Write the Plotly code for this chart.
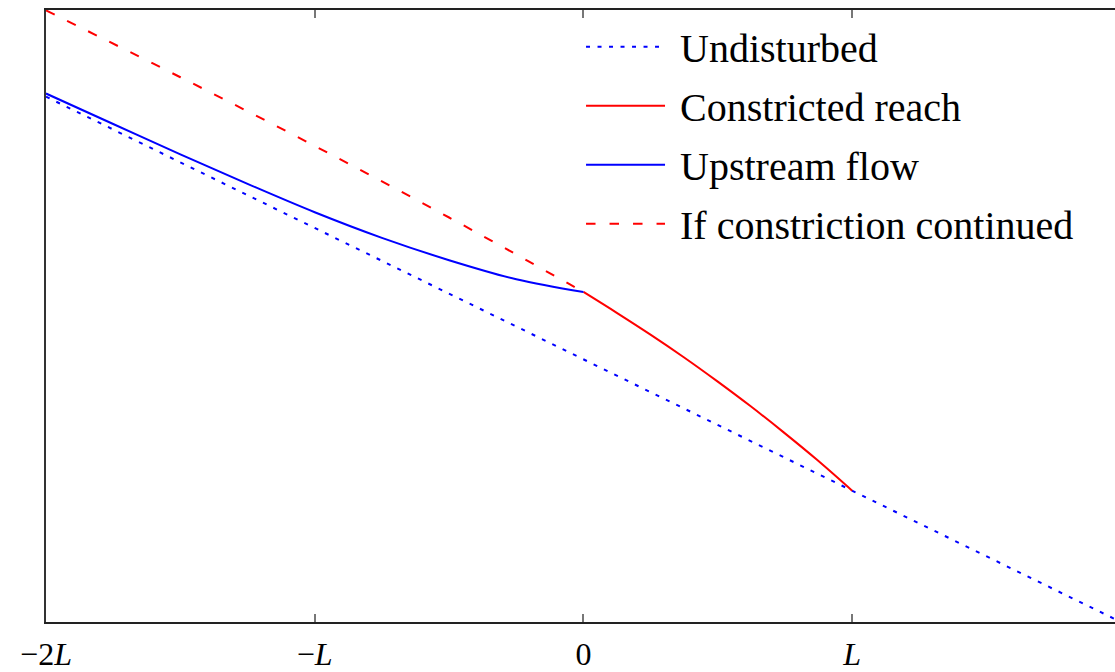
import plotly.graph_objects as go

# Data (x in units of L, y = water-surface elevation in arbitrary units)
x_undisturbed = [-2.0, 1.978]
y_undisturbed = [4.0, 0.022]

x_constricted = [0.0, 0.124, 0.248, 0.372, 0.496, 0.620, 0.744, 0.868, 1.0]
y_constricted = [2.513, 2.354, 2.190, 2.018, 1.836, 1.646, 1.446, 1.237, 1.0]

x_upstream = [-2.0, -1.75, -1.5, -1.25, -1.0, -0.75, -0.5, -0.25, 0.0]
y_upstream = [4.024, 3.792, 3.560, 3.336, 3.120, 2.925, 2.755, 2.610, 2.513]

x_continued = [-2.0, -1.5, -1.0, -0.5, 0.0]
y_continued = [4.657, 4.148, 3.625, 3.080, 2.513]

tick_vals = [-2, -1, 0, 1]
tick_text = ["\u22122<i>L</i>", "\u2212<i>L</i>", "0", "<i>L</i>"]

FONT = "Liberation Serif"
SP = "\u00a0"

fig = go.Figure()
fig.add_trace(go.Scatter(x=x_undisturbed, y=y_undisturbed, mode="lines",
                         name=SP + "Undisturbed", legendgroup="a",
                         line=dict(color="#0000ff", width=2, dash="4px,7.5px")))
fig.add_trace(go.Scatter(x=x_constricted, y=y_constricted, mode="lines",
                         name=SP + "Constricted reach", legendgroup="b",
                         line=dict(color="#ff0000", width=2, shape="spline")))
fig.add_trace(go.Scatter(x=x_upstream, y=y_upstream, mode="lines",
                         name=SP + "Upstream flow", legendgroup="c",
                         line=dict(color="#0000ff", width=2, shape="spline")))
fig.add_trace(go.Scatter(x=x_continued, y=y_continued, mode="lines",
                         name=SP + "If constriction continued", legendgroup="d",
                         line=dict(color="#ff0000", width=2, dash="9.5px,14px", shape="spline")))

fig.update_layout(
    width=1115, height=672,
    margin=dict(l=46, r=0, t=10, b=50),
    plot_bgcolor="white", paper_bgcolor="white",
    font=dict(family=FONT, size=32, color="black"),
    showlegend=True,
    legend=dict(x=0.5005, y=0.993, xanchor="left", yanchor="top",
                bgcolor="rgba(0,0,0,0)", borderwidth=0,
                font=dict(family=FONT, size=40, color="black"),
                traceorder="grouped", tracegroupgap=4, itemwidth=79),
)
fig.update_xaxes(range=[-2, 1.978], tickvals=tick_vals, ticktext=tick_text,
                 ticks="inside", ticklen=8, tickwidth=1.5, tickcolor="#777777",
                 showline=True, linecolor="#222222", linewidth=1.5, mirror="ticks",
                 showgrid=False, zeroline=False, ticklabelstandoff=3,
                 tickfont=dict(family=FONT, size=32, color="black"))
fig.update_yaxes(range=[0, 4.66], showticklabels=False, ticks="",
                 showline=True, linecolor="#333333", linewidth=2, mirror=False,
                 showgrid=False, zeroline=False)

fig.write_html(
    "out.html",
    config={"displayModeBar": False},
    post_script="document.body.style.margin='0';document.body.style.overflow='hidden';",
)
